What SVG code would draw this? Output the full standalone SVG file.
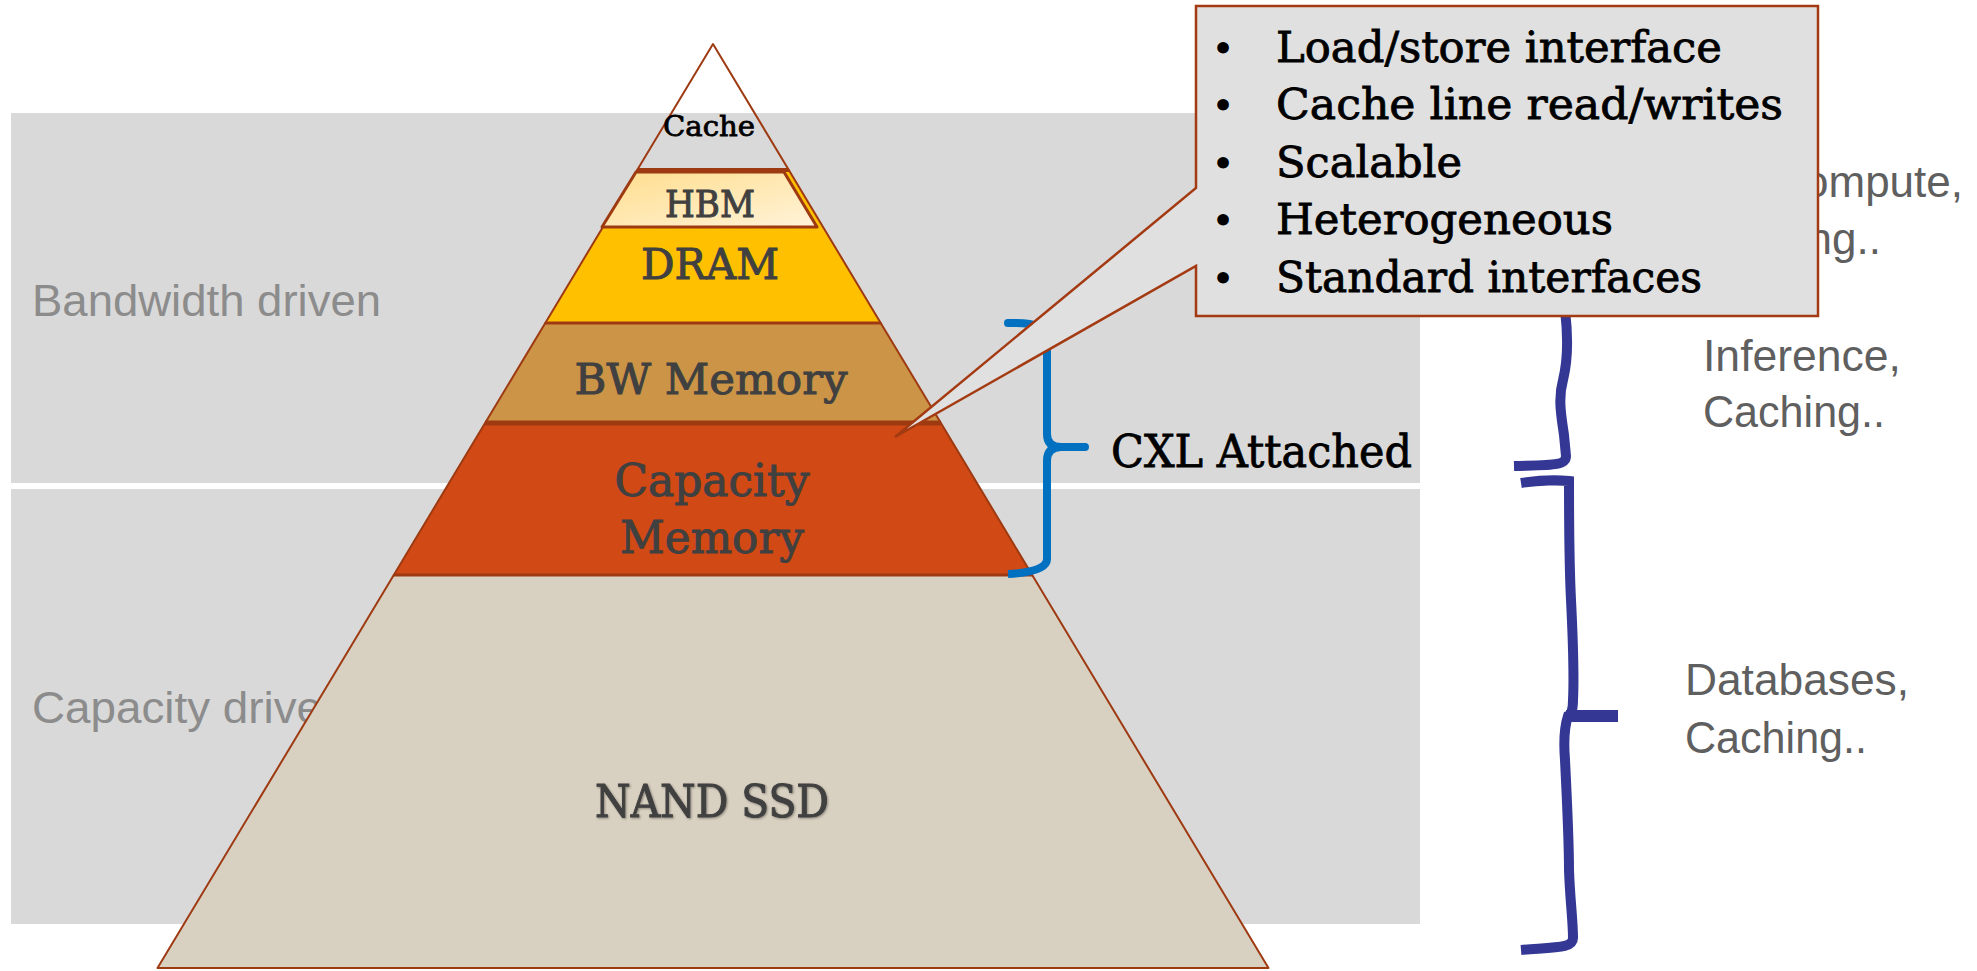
<svg xmlns="http://www.w3.org/2000/svg" width="1977" height="971" viewBox="0 0 1977 971">
  <defs>
    <linearGradient id="hbmFill" x1="0" y1="0" x2="1" y2="1">
      <stop offset="0" stop-color="#FFDD8C"/>
      <stop offset="1" stop-color="#FFF3D9"/>
    </linearGradient>
    <filter id="softShadow" x="-10%" y="-30%" width="120%" height="160%">
      <feDropShadow dx="1" dy="1" stdDeviation="1" flood-color="#000" flood-opacity="0.35"/>
    </filter>
  </defs>
  <style>
    .band { fill: #D9D9D9; }
    .layer { stroke: #9E3A12; stroke-width: 2; stroke-linejoin: round; }
    .sep { stroke: #9E3A12; fill: none; }
    .slab { font-family: "DejaVu Serif", "Liberation Serif", serif; }
    .lbl { fill: #404040; stroke: #404040; stroke-width: 1; text-anchor: middle; }
    .ink { fill: #000; stroke: #000; stroke-width: 0.8; }
    .side { font-family: "Liberation Sans", Arial, sans-serif; font-size: 45px; fill: #8C8C8C; }
    .use { font-family: "Liberation Sans", Arial, sans-serif; font-size: 44px; fill: #5F5F5F; }
    .navy { fill: none; stroke: #343894; stroke-width: 10; }
    .bullet { font-family: "DejaVu Serif", "Liberation Serif", serif; font-size: 40px; fill: #000; }
  </style>

  <rect width="1977" height="971" fill="#FFFFFF"/>

  <!-- background bands -->
  <g id="bands">
    <rect class="band" x="11" y="113" width="1409" height="370"/>
    <rect class="band" x="11" y="489" width="1409" height="435"/>
    <text class="side" x="32" y="316" textLength="349" lengthAdjust="spacingAndGlyphs">Bandwidth driven</text>
    <text class="side" x="32" y="723" textLength="290" lengthAdjust="spacingAndGlyphs">Capacity drive</text>
  </g>

  <!-- use-case labels on the right (partly under the callout) -->
  <g id="use-cases">
    <text class="use" x="1963" y="197" text-anchor="end">ompute,</text>
    <text class="use" x="1881" y="254" text-anchor="end">ng..</text>
    <text class="use" x="1703" y="371" textLength="198" lengthAdjust="spacingAndGlyphs">Inference,</text>
    <text class="use" x="1703" y="427" textLength="182" lengthAdjust="spacingAndGlyphs">Caching..</text>
    <text class="use" x="1685" y="695" textLength="224" lengthAdjust="spacingAndGlyphs">Databases,</text>
    <text class="use" x="1685" y="753" textLength="182" lengthAdjust="spacingAndGlyphs">Caching..</text>
  </g>

  <!-- memory pyramid -->
  <g id="nand-ssd">
    <polygon class="layer" points="393.8,575 1032.2,575 1268.5,968 157.5,968" fill="#D8D0C0"/>
    <text class="slab lbl" x="712" y="817" font-size="44" textLength="234" lengthAdjust="spacingAndGlyphs" filter="url(#softShadow)">NAND SSD</text>
  </g>
  <g id="capacity-memory">
    <polygon class="layer" points="485.1,423 940.9,423 1032.2,575 393.8,575" fill="#D14915"/>
    <text class="slab lbl" x="712" y="496" font-size="44" textLength="195" lengthAdjust="spacingAndGlyphs">Capacity</text>
    <text class="slab lbl" x="712" y="553" font-size="44" textLength="184" lengthAdjust="spacingAndGlyphs">Memory</text>
  </g>
  <g id="bw-memory">
    <polygon class="layer" points="545.3,323 880.7,323 940.9,423 485.1,423" fill="#CC9446"/>
    <text class="slab lbl" x="711" y="394" font-size="42" textLength="273" lengthAdjust="spacingAndGlyphs">BW Memory</text>
  </g>
  <g id="dram">
    <polygon class="layer" points="637.2,170 788.8,170 880.7,323 545.3,323" fill="#FFC000"/>
    <text class="slab lbl" x="710" y="279" font-size="43" textLength="138" lengthAdjust="spacingAndGlyphs">DRAM</text>
  </g>
  <g id="hbm">
    <polygon points="636,172 784,172 817,227 602,227" fill="url(#hbmFill)" stroke="#9E3A12" stroke-width="3" stroke-linejoin="round"/>
    <text class="slab lbl" x="710" y="217" font-size="37" textLength="90" lengthAdjust="spacingAndGlyphs">HBM</text>
  </g>
  <g id="cache">
    <polygon class="layer" points="713,44 788.8,170 637.2,170" fill="none"/>
    <text class="slab ink" x="709" y="136" font-size="28" text-anchor="middle" textLength="92" lengthAdjust="spacingAndGlyphs">Cache</text>
  </g>
  <g id="layer-borders">
    <line class="sep" x1="637" y1="170" x2="789" y2="170" stroke-width="4"/>
    <line class="sep" x1="545" y1="323" x2="881" y2="323" stroke-width="3"/>
    <line class="sep" x1="485" y1="423" x2="941" y2="423" stroke-width="5"/>
    <line class="sep" x1="394" y1="575" x2="1032" y2="575" stroke-width="3"/>
  </g>

  <!-- connectors: braces -->
  <g id="connectors">
    <g id="cxl-brace" fill="none" stroke="#0070C0" stroke-width="8">
      <path d="M1008,323 C1037,322 1047,327 1047,342 L1047,434 Q1047,447 1061,447 L1085,447" stroke-linecap="round"/>
      <path d="M1061,447 Q1047,447 1047,461 L1047,559 Q1047,572 1008,574"/>
    </g>
    <g id="workload-braces">
      <path class="navy" d="M1565,310 C1568,335 1568,360 1563,380 C1558,398 1561,415 1564,435 L1566,456 C1566,466 1552,465 1514,466"/>
      <path class="navy" d="M1521,483 C1540,480 1560,480 1569,481 C1569,520 1569,560 1571,600 C1573,640 1574,680 1573,700 C1573,710 1571,715 1568,716 C1566,722 1563,735 1565,760 C1567,800 1569,840 1569,870 C1570,900 1573,920 1573,938 C1573,948 1558,947 1521,950"/>
      <path d="M1566,716 H1618" stroke="#343894" stroke-width="12" fill="none"/>
    </g>
  </g>

  <!-- callout with CXL properties -->
  <g id="cxl-callout">
    <path d="M1196,6 H1818 V316 H1196 V266 L895,437 L1196,188 Z" fill="#E0E0E0" stroke="#A33A12" stroke-width="2.5" stroke-linejoin="miter"/>
    <text class="bullet" x="1223" y="62" text-anchor="middle">•</text>
    <text class="bullet" x="1223" y="119" text-anchor="middle">•</text>
    <text class="bullet" x="1223" y="177" text-anchor="middle">•</text>
    <text class="bullet" x="1223" y="234" text-anchor="middle">•</text>
    <text class="bullet" x="1223" y="292" text-anchor="middle">•</text>
    <g class="slab ink" font-size="42">
      <text x="1276" y="62" textLength="446" lengthAdjust="spacingAndGlyphs">Load/store interface</text>
      <text x="1276" y="119" textLength="507" lengthAdjust="spacingAndGlyphs">Cache line read/writes</text>
      <text x="1276" y="177" textLength="186" lengthAdjust="spacingAndGlyphs">Scalable</text>
      <text x="1276" y="234" textLength="337" lengthAdjust="spacingAndGlyphs">Heterogeneous</text>
      <text x="1276" y="292" textLength="426" lengthAdjust="spacingAndGlyphs">Standard interfaces</text>
    </g>
  </g>

  <g id="cxl-label">
    <text class="slab ink" x="1111" y="467" font-size="44" textLength="301" lengthAdjust="spacingAndGlyphs">CXL Attached</text>
  </g>
</svg>
